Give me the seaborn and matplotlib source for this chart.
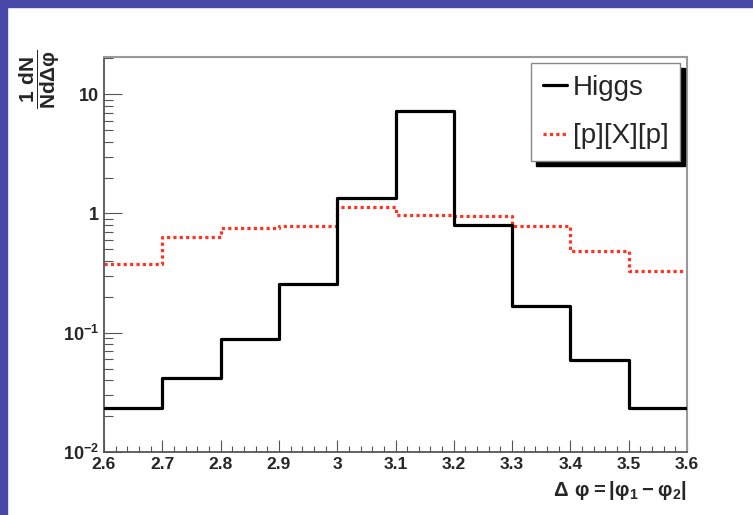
import matplotlib
matplotlib.use("Agg")
import matplotlib.pyplot as plt
from matplotlib.patches import Rectangle
from matplotlib.ticker import MultipleLocator, FixedLocator, FuncFormatter, LogLocator, NullFormatter
import seaborn as sns
import numpy as np

# ---- data ----
bin_edges = [2.6, 2.7, 2.8, 2.9, 3.0, 3.1, 3.2, 3.3, 3.4, 3.5, 3.6]
higgs = [0.0232, 0.0415, 0.088, 0.255, 1.36, 7.2, 0.80, 0.167, 0.0587, 0.0235]
pxp = [0.38, 0.63, 0.75, 0.79, 1.14, 0.97, 0.95, 0.79, 0.48, 0.33]
series_labels = ["Higgs", "[p][X][p]"]
x_ticks = [2.6, 2.7, 2.8, 2.9, 3.0, 3.1, 3.2, 3.3, 3.4, 3.5, 3.6]
y_ticks = [0.01, 0.1, 1, 10]
y_tick_labels = [r"$10^{-2}$", r"$10^{-1}$", "1", "10"]

sns.set_style("ticks")
plt.rcParams["font.family"] = ["Liberation Sans", "DejaVu Sans"]
plt.rcParams["font.weight"] = "bold"
plt.rcParams["mathtext.default"] = "regular"

W, H = 753, 515
fig = plt.figure(figsize=(W / 100, H / 100), dpi=100)
fig.patch.set_facecolor("white")
ax = fig.add_axes([104 / W, (H - 452) / H, 583 / W, 395 / H])

# purple frame bands
band = "#4848aa"
fig.patches.append(Rectangle((0, 1 - 7 / H), 1, 7 / H, transform=fig.transFigure,
                             color=band, zorder=0))
fig.patches.append(Rectangle((0, 0), 7 / W, 1, transform=fig.transFigure,
                             color=band, zorder=0))

# step histograms
hx = bin_edges
hy = higgs + [higgs[-1]]
py = pxp + [pxp[-1]]
sns.lineplot(x=hx, y=hy, ax=ax, drawstyle="steps-post", color="black",
             linewidth=2.3, label=series_labels[0], sort=False, errorbar=None,
             legend=False)
sns.lineplot(x=hx, y=py, ax=ax, drawstyle="steps-post", color="#ff3322",
             linewidth=2.3, linestyle=(0, (1, 1)), dash_capstyle="butt",
             label=series_labels[1], sort=False, errorbar=None, legend=False)
ax.lines[0].set_zorder(3)
ax.lines[1].set_zorder(2)

ax.set_yscale("log")
ax.set_xlim(2.6, 3.6)
ax.set_ylim(0.01, 20.5)

ax.xaxis.set_major_locator(FixedLocator(x_ticks))
ax.xaxis.set_minor_locator(MultipleLocator(0.02))
ax.xaxis.set_major_formatter(FuncFormatter(lambda v, p: f"{v:g}"))
ax.yaxis.set_major_locator(FixedLocator(y_ticks))
ax.yaxis.set_major_formatter(FuncFormatter(
    lambda v, p: y_tick_labels[int(np.argmin([abs(np.log10(v) - np.log10(t)) for t in y_ticks]))]))
ax.yaxis.set_minor_locator(LogLocator(base=10, subs=np.arange(2, 10)))
ax.yaxis.set_minor_formatter(NullFormatter())

tick_col = "#555555"
ax.tick_params(axis="y", which="major", direction="in", length=12.6, width=0.8,
               color=tick_col, pad=3.6, labelsize=13, left=True, right=False)
ax.tick_params(axis="y", which="minor", direction="in", length=6.3, width=0.8,
               color=tick_col, left=True, right=False)
ax.tick_params(axis="x", which="major", direction="in", length=8.6, width=0.8,
               color=tick_col, pad=3.6, labelsize=12.5, bottom=True, top=False)
ax.tick_params(axis="x", which="minor", direction="in", length=4.3, width=0.8,
               color=tick_col, bottom=True, top=False)
for lab in ax.get_xticklabels() + ax.get_yticklabels():
    lab.set_fontweight("bold")

for s in ["left", "bottom"]:
    ax.spines[s].set_color("#555555")
    ax.spines[s].set_linewidth(1.3)
for s in ["top", "right"]:
    ax.spines[s].set_color("#999999")
    ax.spines[s].set_linewidth(1.5)

ax.set_xlabel(r"$Δ\ φ = |φ_1 - φ_2|$", loc="right", fontsize=14.5,
              fontweight="bold", labelpad=5)
fig.text(40 / W, 1 - 79 / H, r"$\dfrac{1\ dN}{N dΔφ}$", rotation=90,
         ha="center", va="center", fontsize=15, fontweight="bold")

leg = ax.legend(loc="upper right", bbox_to_anchor=(680 / W, 1 - 63 / H),
                bbox_transform=fig.transFigure, frameon=True, fancybox=False,
                edgecolor="#888888", facecolor="white", framealpha=1,
                shadow={"ox": 3.6, "oy": -3.6, "color": "black", "alpha": 1},
                prop={"size": 20, "weight": "normal"}, handlelength=0.86,
                handletextpad=0.2, borderpad=0.42, labelspacing=0.82,
                borderaxespad=0)
leg.get_frame().set_linewidth(1.0)

fig.savefig("out.png", dpi=100)
